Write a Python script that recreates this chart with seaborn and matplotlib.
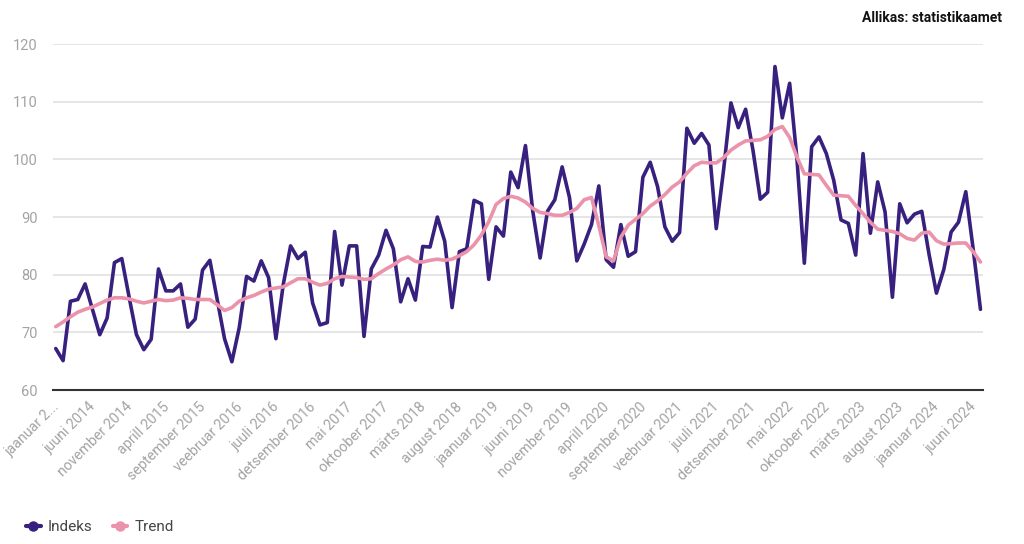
import numpy as np
import pandas as pd
import seaborn as sns
import matplotlib
matplotlib.use("Agg")
import matplotlib.pyplot as plt
import matplotlib.transforms as mtransforms
from matplotlib.lines import Line2D

# ---------------- data ----------------
indeks = [
    67.2, 65.1, 75.4, 75.7, 78.4, 74.0, 69.6, 72.5, 82.1, 82.8, 76.1, 69.6,   # 2014
    67.0, 68.8, 81.0, 77.2, 77.2, 78.4, 70.9, 72.3, 80.8, 82.5, 75.7, 68.9,   # 2015
    64.9, 70.8, 79.7, 78.9, 82.4, 79.5, 68.9, 78.3, 85.0, 82.8, 83.9, 75.1,   # 2016
    71.3, 71.7, 87.5, 78.2, 85.0, 85.0, 69.3, 81.0, 83.4, 87.7, 84.5, 75.3,   # 2017
    79.3, 75.6, 84.9, 84.8, 90.0, 85.8, 74.3, 84.0, 84.5, 92.9, 92.3, 79.2,   # 2018
    88.3, 86.7, 97.8, 95.1, 102.4, 91.0, 82.9, 91.0, 93.0, 98.7, 93.4, 82.4,  # 2019
    85.3, 88.7, 95.4, 82.6, 81.3, 88.7, 83.2, 84.0, 96.9, 99.5, 95.3, 88.3,   # 2020
    85.8, 87.3, 105.4, 102.8, 104.5, 102.5, 88.0, 98.2, 109.8, 105.5, 108.7, 101.6,  # 2021
    93.1, 94.3, 116.1, 107.2, 113.2, 100.0, 82.0, 102.2, 103.9, 101.0, 96.4, 89.5,   # 2022
    88.9, 83.4, 101.0, 87.2, 96.1, 90.9, 76.1, 92.3, 89.0, 90.5, 91.0, 83.5,  # 2023
    76.8, 80.9, 87.4, 89.1, 94.4, 84.5, 74.0,                                 # 2024
]
trend = [
    71.0, 71.8, 72.7, 73.5, 74.0, 74.4, 75.0, 75.6, 76.0, 76.0, 75.8, 75.4,
    75.1, 75.4, 75.7, 75.5, 75.6, 76.0, 75.9, 75.7, 75.7, 75.7, 74.8, 73.8,
    74.3, 75.4, 76.0, 76.4, 77.0, 77.5, 77.7, 77.9, 78.6, 79.3, 79.3, 78.7,
    78.2, 78.5, 79.3, 79.7, 79.6, 79.5, 79.2, 79.3, 80.2, 81.0, 81.7, 82.6,
    83.1, 82.3, 82.2, 82.5, 82.7, 82.5, 82.7, 83.3, 84.0, 85.2, 86.9, 89.2,
    92.2, 93.2, 93.6, 93.3, 92.6, 91.5, 90.8, 90.6, 90.3, 90.3, 90.8, 91.5,
    93.0, 93.4, 88.5, 83.1, 82.4, 86.5, 88.6, 89.6, 90.6, 91.9, 92.8, 93.9,
    95.2, 96.1, 97.6, 98.9, 99.5, 99.4, 99.4, 100.3, 101.6, 102.5, 103.2, 103.3,
    103.4, 104.0, 105.2, 105.7, 103.8, 100.4, 97.5, 97.4, 97.3, 95.5, 93.8, 93.7,
    93.6, 92.0, 90.6, 89.1, 87.9, 87.7, 87.5, 87.1, 86.3, 86.0, 87.2, 87.4,
    85.9, 85.3, 85.4, 85.5, 85.5, 84.0, 82.2,
]
tick_labels = [
    "jaanuar 2...", "juuni 2014", "november 2014", "aprill 2015", "september 2015",
    "veebruar 2016", "juuli 2016", "detsember 2016", "mai 2017", "oktoober 2017",
    "märts 2018", "august 2018", "jaanuar 2019", "juuni 2019", "november 2019",
    "aprill 2020", "september 2020", "veebruar 2021", "juuli 2021", "detsember 2021",
    "mai 2022", "oktoober 2022", "märts 2023", "august 2023", "jaanuar 2024",
    "juuni 2024",
]
y_ticks = [60, 70, 80, 90, 100, 110, 120]
series_names = ["Indeks", "Trend"]
source_text = "Allikas: statistikaamet"

# ---------------- style ----------------
sns.set_theme(style="white")
plt.rcParams["font.family"] = ["Roboto", "DejaVu Sans"]

c_idx = "#38207f"
c_trend = "#eb93aa"
c_grid = "#e3e3e3"
c_tick = "#a3a3a3"

n = len(indeks)
df = pd.DataFrame({"t": np.arange(n), "Indeks": indeks, "Trend": trend})

fig = plt.figure(figsize=(10.24, 5.44), dpi=100)
ax = fig.add_axes([0.0515, 0.283, 0.9085, 0.636])

sns.lineplot(data=df, x="t", y="Indeks", color=c_idx, linewidth=2.6, ax=ax, zorder=3)
sns.lineplot(data=df, x="t", y="Trend", color=c_trend, linewidth=2.6, ax=ax, zorder=4)

ax.set_xlim(-0.41, n - 1 + 0.35)
ax.set_ylim(60, 120)
ax.set_yticks(y_ticks)
ax.set_yticklabels([str(v) for v in y_ticks], color=c_tick, fontsize=10.5)
ax.set_xticks(np.arange(0, n, 5)[: len(tick_labels)])
ax.set_xticklabels(tick_labels, rotation=45, ha="right", rotation_mode="anchor",
                   color=c_tick, fontsize=10.3)
ax.tick_params(axis="both", length=0)
ax.tick_params(axis="y", pad=11)
ax.tick_params(axis="x", pad=7)
shift = mtransforms.ScaledTranslation(-4 / 100, 0, fig.dpi_scale_trans)
for lab in ax.get_xticklabels():
    lab.set_transform(lab.get_transform() + shift)
ax.set_xlabel("")
ax.set_ylabel("")

ax.grid(axis="y", color=c_grid, linewidth=1.3)
ax.grid(axis="x", visible=False)
for s in ["top", "right", "left"]:
    ax.spines[s].set_visible(False)
ax.spines["bottom"].set_color("#333333")
ax.spines["bottom"].set_linewidth(1.5)
ax.spines["bottom"].set_zorder(5)

fig.text(0.979, 0.966, source_text, ha="right", va="center", fontsize=10,
         fontweight="semibold", color="#111111")

handles = [
    Line2D([0], [0], color=c_idx, lw=3, marker="o", markersize=6.5),
    Line2D([0], [0], color=c_trend, lw=3, marker="o", markersize=6.5),
]
fig.legend(handles, series_names, loc="center left", bbox_to_anchor=(0.012, 0.031),
           ncol=2, frameon=False, fontsize=11, handlelength=0.95, handletextpad=0.45,
           columnspacing=1.35, labelcolor="#444444")

fig.savefig("out.png", dpi=100, facecolor="white")
